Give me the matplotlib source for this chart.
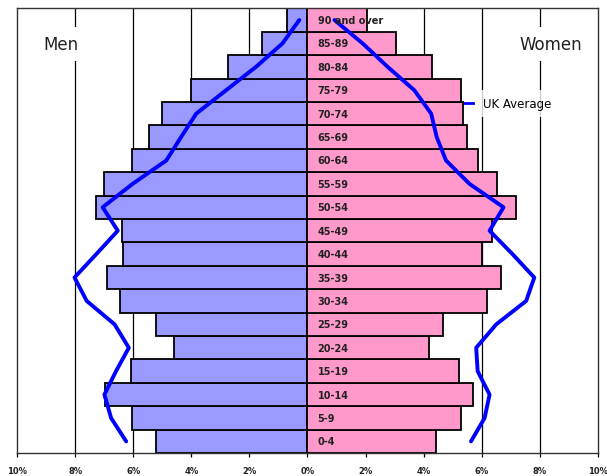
import matplotlib.pyplot as plt
from matplotlib.lines import Line2D

# age groups, youngest first
groups = ['0-4', '5-9', '10-14', '15-19', '20-24', '25-29', '30-34', '35-39',
          '40-44', '45-49', '50-54', '55-59', '60-64', '65-69', '70-74',
          '75-79', '80-84', '85-89', '90 and over']

# % of population (local area)
men = [5.21, 6.03, 6.96, 6.07, 4.61, 5.21, 6.47, 6.91, 6.36, 6.38,
       7.27, 7.01, 6.03, 5.44, 5.00, 4.00, 2.72, 1.57, 0.71]
women = [4.44, 5.27, 5.69, 5.21, 4.18, 4.66, 6.19, 6.68, 6.02, 6.36,
         7.18, 6.52, 5.86, 5.48, 5.37, 5.27, 4.28, 3.05, 2.05]

# UK average profile
uk_men = [6.24, 6.76, 6.99, 6.59, 6.15, 6.64, 7.6, 8.02, 7.27, 6.53,
          7.05, 6.02, 4.86, 4.35, 3.83, 2.8, 1.77, 0.86, 0.28]
uk_women = [5.63, 6.1, 6.27, 5.86, 5.81, 6.5, 7.53, 7.81, 7.06, 6.27,
            6.75, 5.58, 4.77, 4.45, 4.26, 3.68, 2.76, 1.9, 0.93]

ticks = [-10, -8, -6, -4, -2, 0, 2, 4, 6, 8, 10]

fig = plt.figure(figsize=(6.07, 4.77), dpi=100)
ax = fig.add_axes([0.028, 0.048, 0.957, 0.9325])

y = list(range(len(groups)))
ax.barh(y, [-v for v in men], height=1.0, color='#9999ff',
        edgecolor='black', linewidth=1.3, zorder=2)
ax.barh(y, women, height=1.0, color='#ff99cc',
        edgecolor='black', linewidth=1.3, zorder=2)

for t in ticks[1:-1]:
    if t != 0:
        ax.axvline(t, color='black', linewidth=0.9, zorder=1)

ax.plot([-v for v in uk_men], y, color='#0000ff', linewidth=2.8,
        solid_joinstyle='round', solid_capstyle='round', zorder=4)
ax.plot(uk_women, y, color='#0000ff', linewidth=2.8,
        solid_joinstyle='round', solid_capstyle='round', zorder=4)

for i, g in enumerate(groups):
    ax.text(0.35, i, g, fontsize=7, fontweight='bold', va='center',
            ha='left', color='#222222', zorder=5)

ax.text(-8.47, 16.97, 'Men', fontsize=12, ha='center', va='center',
        color='#222222', zorder=5,
        bbox=dict(facecolor='white', edgecolor='none', pad=6))
ax.text(8.39, 16.97, 'Women', fontsize=12, ha='center', va='center',
        color='#222222', zorder=5,
        bbox=dict(facecolor='white', edgecolor='none', pad=6))

handle = Line2D([], [], color='#0000ff', linewidth=2)
leg = ax.legend([handle], ['UK Average'], loc='upper left',
                bbox_to_anchor=(0.74, 0.83), frameon=True, fancybox=False,
                handlelength=1.1, handletextpad=0.9, borderpad=0.6,
                prop={'size': 8.5})
leg.get_frame().set_facecolor('white')
leg.get_frame().set_edgecolor('none')
# keep legend box above the gridlines but under the bars
leg.set_zorder(1.5)

ax.set_xlim(-10, 10)
ax.set_ylim(-0.5, len(groups) - 0.5)
ax.set_xticks(ticks)
ax.set_xticklabels(['%d%%' % abs(t) for t in ticks], fontsize=6,
                   fontweight='bold', color='#222222')
ax.tick_params(axis='x', length=3, width=0.9, pad=6)
ax.set_yticks([])
for s in ax.spines.values():
    s.set_linewidth(1.0)
    s.set_color('#333333')

fig.savefig('out.png', dpi=100)
